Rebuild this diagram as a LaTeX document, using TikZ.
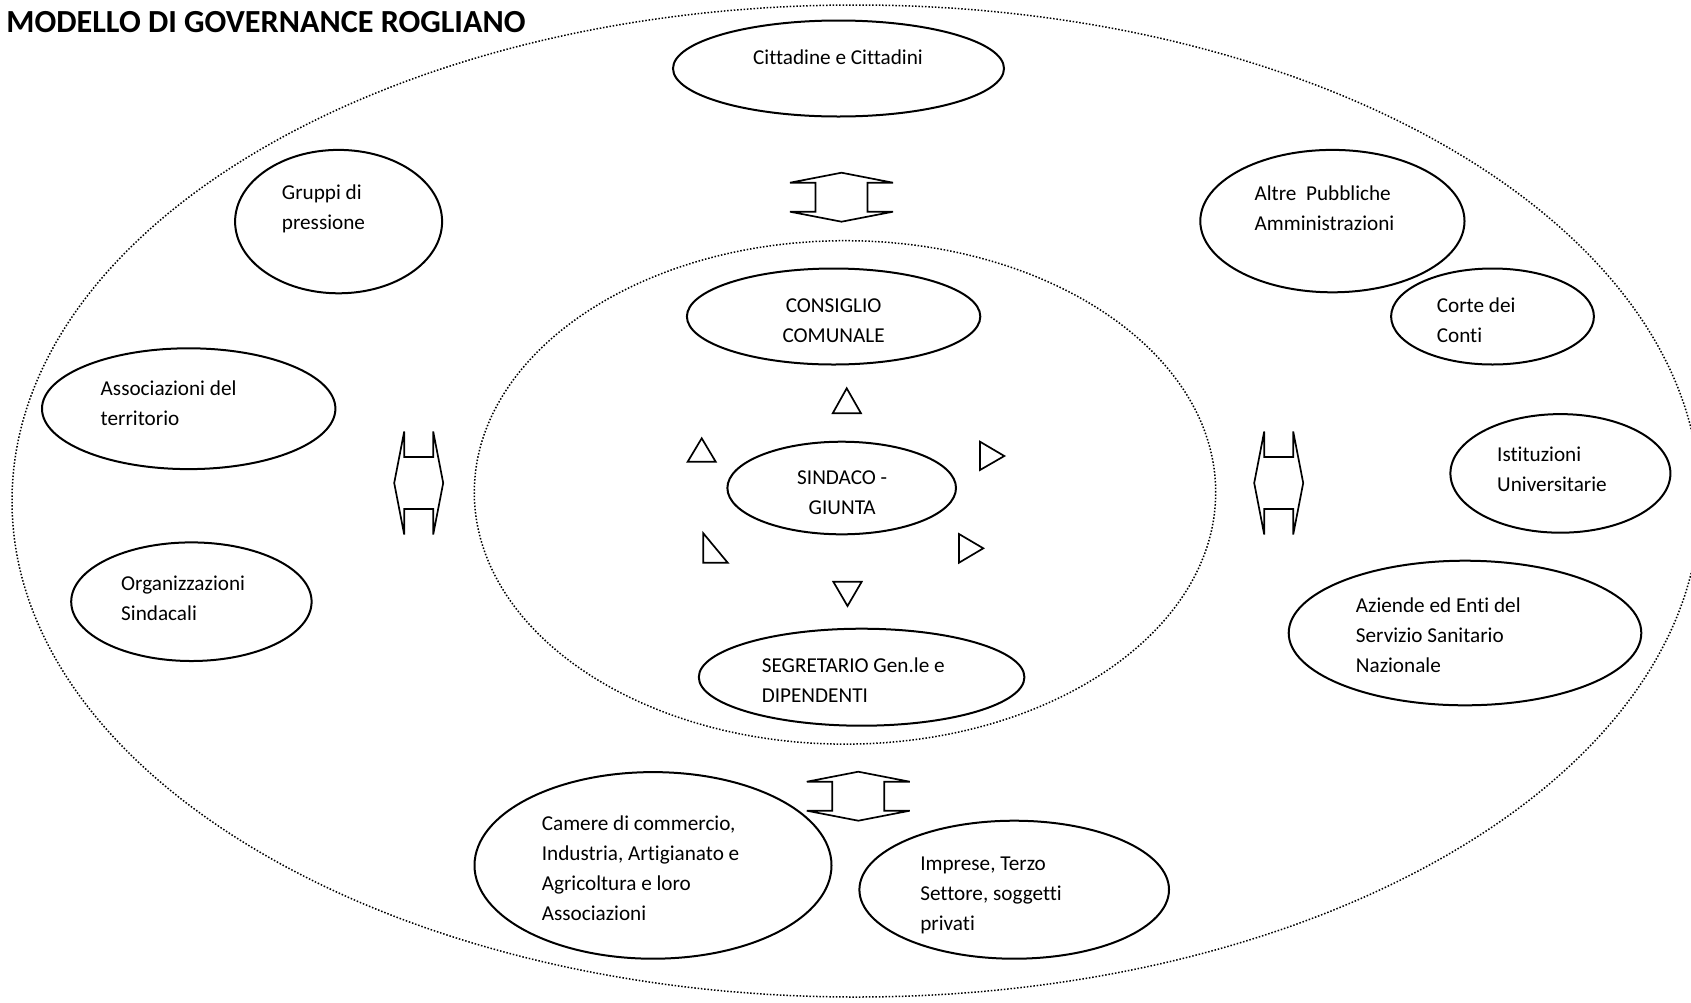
\documentclass[tikz,border=0pt]{standalone}
\usepackage{fontspec}
\setmainfont[Ligatures={NoCommon}]{Carlito}
\usetikzlibrary{shapes.geometric}
\tikzset{ring/.style={draw,ellipse,inner sep=0pt,line width=0.75pt,dash pattern=on 0.75pt off 0.9pt}}
\tikzset{bub/.style={draw,ellipse,fill=white,inner sep=0pt,line width=1pt}}
\tikzset{txt/.style={anchor=west,align=left,inner sep=0pt,font=\fontsize{10.6}{14.95}\selectfont}}
\tikzset{ctxt/.style={txt,anchor=center,align=center}}
\tikzset{tri/.style={line width=0.85pt,line join=miter}}
\tikzset{dblarrow/.pic={
  \draw[tri] (0,24.5) -- (51.5,14.5) -- (26,14.5) -- (26,-14.5) -- (51.5,-14.5) -- (0,-24.5)
    -- (-51.5,-14.5) -- (-26,-14.5) -- (-26,14.5) -- (-51.5,14.5) -- cycle;}}

\begin{document}
\begin{tikzpicture}[x=0.5pt,y=-0.5pt]
\useasboundingbox (0,0) rectangle (1691,1002);
\clip (0,0) rectangle (1691,1002);

\node[ring,minimum width=844pt,minimum height=496pt] (outer) at (856,501) {};
\node[ring,minimum width=370.7pt,minimum height=251.7pt] (inner) at (845,492.4) {};

\node[anchor=west,inner sep=0pt,font=\fontsize{16.1}{18}\bfseries] (title) at (6,22) {MODELLO DI GOVERNANCE ROGLIANO};

\node[bub,minimum width=165.5pt,minimum height=48pt] (cit) at (838.5,68.5) {};
\node[bub,minimum width=103.5pt,minimum height=71.7pt] (grp) at (338.6,221.6) {};
\node[bub,minimum width=132.1pt,minimum height=71.2pt] (alt) at (1332.4,221.1) {};
\node[bub,minimum width=101.4pt,minimum height=48pt] (cor) at (1492.5,316.5) {};
\node[bub,minimum width=146.7pt,minimum height=48pt] (con) at (833.6,316.5) {};
\node[bub,minimum width=146.7pt,minimum height=60.4pt] (ass) at (188.7,408.7) {};
\node[bub,minimum width=110pt,minimum height=59.3pt] (ist) at (1560.4,473.4) {};
\node[bub,minimum width=114.3pt,minimum height=46.3pt] (sin) at (841.7,488) {};
\node[bub,minimum width=120.2pt,minimum height=59.3pt] (org) at (191.4,601.7) {};
\node[bub,minimum width=176.3pt,minimum height=72.3pt] (azi) at (1465,633) {};
\node[bub,minimum width=162.8pt,minimum height=48.5pt] (seg) at (861.6,677.2) {};
\node[bub,minimum width=178.5pt,minimum height=93.3pt] (cam) at (653,865.4) {};
\node[bub,minimum width=154.8pt,minimum height=69pt] (imp) at (1014.2,889.7) {};

\node[txt] (citT) at (752.7,57.5) {Cittadine e Cittadini};
\node[txt] (grpT) at (281.5,208.5) {Gruppi di\\pressione};
\node[txt] (altT) at (1254.2,208) {Altre\ \ Pubbliche\\Amministrazioni};
\node[txt] (corT) at (1436.4,320.5) {Corte dei\\Conti};
\node[ctxt] (conT) at (833.6,320.5) {CONSIGLIO\\COMUNALE};
\node[txt] (assT) at (100.3,403.5) {Associazioni del\\territorio};
\node[ctxt] (sinT) at (842.2,492.5) {SINDACO -\\GIUNTA};
\node[txt] (istT) at (1496.8,469) {Istituzioni\\Universitarie};
\node[txt] (orgT) at (120.8,598.3) {Organizzazioni\\Sindacali};
\node[txt] (aziT) at (1355.5,635.5) {Aziende ed Enti del\\Servizio Sanitario\\Nazionale};
\node[txt] (segT) at (761.4,680.2) {SEGRETARIO Gen.le e\\DIPENDENTI};
\node[txt] (camT) at (541.4,868) {Camere di commercio,\\Industria, Artigianato e\\Agricoltura e loro\\Associazioni};
\node[txt] (impT) at (919.9,895.5) {Imprese, Terzo\\Settore, soggetti\\privati};

\pic at (841.5,197.2) {dblarrow};
\pic at (858.3,796.2) {dblarrow};
\pic[rotate=90] at (418.7,483) {dblarrow};
\pic[rotate=90] at (1278.7,483) {dblarrow};

\draw[tri] (846.7,388.3) -- (832.7,413.3) -- (861,413.3) -- cycle;
\draw[tri] (701.7,438.3) -- (687.7,461.7) -- (715.7,461.7) -- cycle;
\draw[tri] (980,441.7) -- (980,470) -- (1004.3,456) -- cycle;
\draw[tri] (703.3,533.3) -- (703.3,562.7) -- (727.7,562.7) -- cycle;
\draw[tri] (959,534) -- (959,562.7) -- (983.3,548.3) -- cycle;
\draw[tri] (833.3,581.7) -- (861.7,581.7) -- (847.5,606) -- cycle;
\end{tikzpicture}
\end{document}
